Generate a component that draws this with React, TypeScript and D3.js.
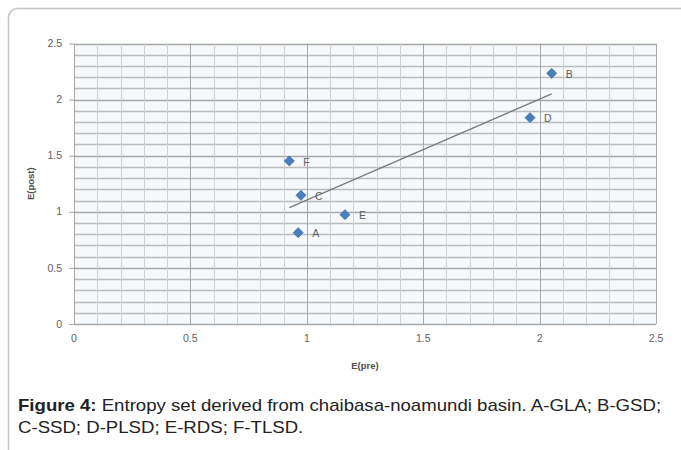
import React, { useRef, useEffect } from 'react'
import * as d3 from 'd3'

// point labels and values
const labels = ['A', 'B', 'C', 'D', 'E', 'F']
const ePre = [0.963, 2.052, 0.975, 1.959, 1.164, 0.925]
const ePost = [0.814, 2.234, 1.147, 1.839, 0.974, 1.453]

const xTicks = [0, 0.5, 1, 1.5, 2, 2.5]
const yTicks = [0, 0.5, 1, 1.5, 2, 2.5]

const captionLine1 = 'Entropy set derived from chaibasa-noamundi basin. A-GLA; B-GSD;'
const captionLine2 = 'C-SSD; D-PLSD; E-RDS; F-TLSD.'

export default function App() {
  const ref = useRef<SVGSVGElement>(null)
  const width = 681, height = 450
  const margin = { top: 43.5, right: 25, bottom: 126, left: 74 }

  useEffect(() => {
    const svg = d3.select(ref.current)
    svg.selectAll('*').remove()

    const x = d3.scaleLinear().domain([0, 2.5]).range([margin.left, width - margin.right])
    const y = d3.scaleLinear().domain([0, 2.5]).range([height - margin.bottom, margin.top])

    // outer frame (cut off at right/bottom like the page scan)
    svg.append('rect')
      .attr('x', 8.5).attr('y', 8.5)
      .attr('width', 700).attr('height', 480)
      .attr('rx', 9)
      .attr('fill', '#fff')
      .attr('stroke', '#c4c4c4')
      .attr('stroke-width', 1.5)

    // plot background
    svg.append('rect')
      .attr('x', x(0)).attr('y', y(2.5))
      .attr('width', x(2.5) - x(0)).attr('height', y(0) - y(2.5))
      .attr('fill', '#f5f9fc')

    const minor = d3.range(0, 2.501, 0.1)
    const g = svg.append('g')
    // horizontal grid
    g.selectAll('line.h').data(minor).join('line')
      .attr('x1', x(0)).attr('x2', x(2.5))
      .attr('y1', d => Math.round(y(d)) + 0.5).attr('y2', d => Math.round(y(d)) + 0.5)
      .attr('stroke', (d, i) => i % 5 === 0 ? '#a8a8a8' : '#bcbcbc')
      .attr('stroke-width', 1.3)
    // vertical grid
    g.selectAll('line.v').data(minor).join('line')
      .attr('y1', y(0)).attr('y2', y(2.5))
      .attr('x1', d => Math.round(x(d)) + 0.5).attr('x2', d => Math.round(x(d)) + 0.5)
      .attr('stroke', (d, i) => i % 5 === 0 ? '#a8a8a8' : '#d0d0d0')
      .attr('stroke-width', 1)

    // y axis ticks + labels
    yTicks.forEach(t => {
      svg.append('line')
        .attr('x1', x(0) - 5).attr('x2', x(0))
        .attr('y1', y(t) + 0.5).attr('y2', y(t) + 0.5)
        .attr('stroke', '#a8a8a8')
      svg.append('text')
        .attr('x', x(0) - 12).attr('y', y(t))
        .attr('dy', '0.35em')
        .attr('text-anchor', 'end')
        .attr('font-family', 'Liberation Sans, Arial, sans-serif')
        .attr('font-size', 10.5)
        .attr('fill', '#606060')
        .text(t)
    })
    // x axis labels
    xTicks.forEach(t => {
      svg.append('text')
        .attr('x', x(t)).attr('y', y(0) + 18)
        .attr('text-anchor', 'middle')
        .attr('font-family', 'Liberation Sans, Arial, sans-serif')
        .attr('font-size', 10.5)
        .attr('fill', '#606060')
        .text(t)
    })

    // axis titles
    svg.append('text')
      .attr('x', (x(0) + x(2.5)) / 2).attr('y', y(0) + 45)
      .attr('text-anchor', 'middle')
      .attr('font-family', 'Liberation Sans, Arial, sans-serif')
      .attr('font-size', 9.5).attr('font-weight', 'bold')
      .attr('fill', '#505050')
      .text('E(pre)')
    svg.append('text')
      .attr('transform', `translate(34,${(y(0) + y(2.5)) / 2}) rotate(-90)`)
      .attr('text-anchor', 'middle')
      .attr('font-family', 'Liberation Sans, Arial, sans-serif')
      .attr('font-size', 9.5).attr('font-weight', 'bold')
      .attr('fill', '#505050')
      .text('E(post)')

    // linear trend line (least squares through the points)
    const mx = d3.mean(ePre)!, my = d3.mean(ePost)!
    const sxy = d3.sum(ePre.map((v, i) => (v - mx) * (ePost[i] - my)))
    const sxx = d3.sum(ePre.map(v => (v - mx) ** 2))
    const slope = sxy / sxx
    const icpt = my - slope * mx
    const [x0, x1] = d3.extent(ePre) as [number, number]
    svg.append('path')
      .datum([x0, x1])
      .attr('d', d3.line<number>().x(d => x(d)).y(d => y(icpt + slope * d)))
      .attr('stroke', '#7a7a7a')
      .attr('stroke-width', 1.3)
      .attr('fill', 'none')

    // points
    const pts = labels.map((l, i) => ({ l, px: ePre[i], py: ePost[i] }))
    svg.selectAll('path.pt').data(pts).join('path')
      .attr('class', 'pt')
      .attr('d', d3.symbol().type(d3.symbolSquare).size(52)())
      .attr('transform', d => `translate(${x(d.px)},${y(d.py)}) rotate(45)`)
      .attr('fill', '#4a7ebb')
      .attr('stroke', '#3d6ea8')
      .attr('stroke-width', 0.6)

    svg.selectAll('text.pl').data(pts).join('text')
      .attr('class', 'pl')
      .attr('x', d => x(d.px) + 14).attr('y', d => y(d.py) + 1)
      .attr('dy', '0.35em')
      .attr('font-family', 'Liberation Sans, Arial, sans-serif')
      .attr('font-size', 10.5)
      .attr('fill', '#606060')
      .text(d => d.l)

    // caption, stretched a little to match the narrow-ish page font
    const cap = svg.append('text')
      .attr('transform', 'translate(18,411) scale(1.095,1)')
      .attr('font-family', 'Liberation Sans, Arial, sans-serif')
      .attr('font-size', 17)
      .attr('fill', '#222')
    cap.append('tspan').attr('font-weight', 'bold').text('Figure 4:')
    cap.append('tspan').text(' ' + captionLine1)
    svg.append('text')
      .attr('transform', 'translate(18,433) scale(1.095,1)')
      .attr('font-family', 'Liberation Sans, Arial, sans-serif')
      .attr('font-size', 17)
      .attr('fill', '#222')
      .text(captionLine2)
  }, [])

  return (
    <svg ref={ref} width={width} height={height}
      style={{ position: 'absolute', left: 0, top: 0, background: '#fff' }} />
  )
}
